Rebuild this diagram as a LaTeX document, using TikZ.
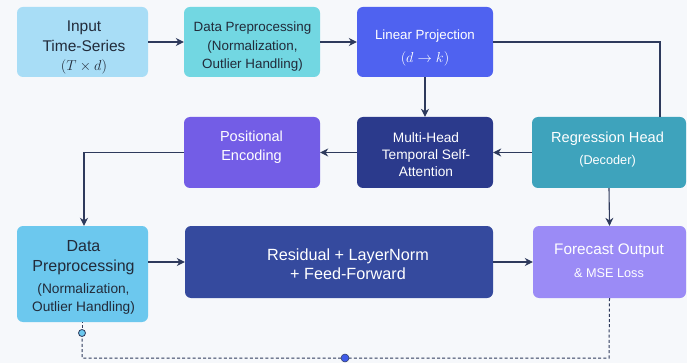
\documentclass[tikz,border=0pt]{standalone}
\usepackage{fontspec}
\setmainfont{Liberation Sans}
\usetikzlibrary{arrows.meta}
\definecolor{bgc}{HTML}{F6F8FB}
\definecolor{cin}{HTML}{A8DDF6}
\definecolor{cdpa}{HTML}{72D7E2}
\definecolor{clp}{HTML}{4F62F0}
\definecolor{cpe}{HTML}{735DE6}
\definecolor{cmh}{HTML}{2B3A8C}
\definecolor{crh}{HTML}{3EA3BC}
\definecolor{cdpb}{HTML}{6CC8EE}
\definecolor{cres}{HTML}{354A9E}
\definecolor{cfo}{HTML}{9B8BF6}
\definecolor{cline}{HTML}{2E3A5C}
\definecolor{dtext}{HTML}{222B3A}
\definecolor{cdot}{HTML}{3F5BE8}
\tikzset{
  blk/.style={rounded corners=6pt, inner sep=0pt},
  txt/.style={align=center, inner sep=0pt},
  darktxt/.style={text=dtext},
  lighttxt/.style={text=white},
  conn/.style={draw=cline, line width=1.1pt, -{Stealth[length=8pt,width=8pt]}},
  plain/.style={draw=cline, line width=1.1pt},
  dashline/.style={draw=cline, line width=1pt, dash pattern=on 3pt off 2.2pt}
}
\begin{document}
\begin{tikzpicture}[x=1pt,y=-1pt]
\fill[bgc] (0,0) rectangle (687,363);
\useasboundingbox (0,0) rectangle (687,363);

% boxes
\node[blk, fill=cin,  minimum width=131pt, minimum height=70pt] (in)  at (82.5,42) {};
\node[blk, fill=cdpa, minimum width=136pt, minimum height=70pt] (dpa) at (252,42) {};
\node[blk, fill=clp,  minimum width=136pt, minimum height=70pt] (lp)  at (425,42) {};
\node[blk, fill=cpe,  minimum width=136pt, minimum height=71pt] (pe)  at (252,152.5) {};
\node[blk, fill=cmh,  minimum width=136pt, minimum height=71pt] (mh)  at (425,152.5) {};
\node[blk, fill=crh,  minimum width=154pt, minimum height=71pt] (rh)  at (609,152.5) {};
\node[blk, fill=cdpb, minimum width=131pt, minimum height=96pt] (dpb) at (82.5,274) {};
\node[blk, fill=cres, minimum width=308pt, minimum height=72pt] (res) at (339,262) {};
\node[blk, fill=cfo,  minimum width=153pt, minimum height=72pt] (fo)  at (609.5,262) {};

% texts
\node[txt, darktxt, font=\fontsize{15.5}{19.5}\selectfont] (int) at (84,47.5)
  {Input\\Time-Series\\{\fontsize{14.5}{14.5}\selectfont$(T\times d)$}};
\node[txt, darktxt, font=\fontsize{13.4}{18.5}\selectfont] (dpat) at (252.5,47)
  {Data Preprocessing\\(Normalization,\\Outlier Handling)};
\node[txt, lighttxt, font=\fontsize{13.3}{23}\selectfont] (lpt) at (425,47.5)
  {Linear Projection\\{\fontsize{14}{14}\selectfont$(d\rightarrow k)$}};
\node[txt, lighttxt, font=\fontsize{14.5}{19}\selectfont] (pet) at (251.5,147.5)
  {Positional\\Encoding};
\node[txt, lighttxt, font=\fontsize{13.7}{17}\selectfont] (mht) at (426,154.5)
  {Multi-Head\\Temporal Self-\\Attention};
\node[txt, lighttxt, font=\fontsize{14.6}{22.5}\selectfont] (rht) at (607.5,149.5)
  {Regression Head\\{\fontsize{12.7}{14}\selectfont (Decoder)}};
\node[txt, darktxt, font=\fontsize{16}{20}\selectfont] (dpbt) at (83.5,277)
  {Data\\Preprocessing\\[2pt]{\fontsize{13.7}{18}\selectfont (Normalization,}\\[-2pt]{\fontsize{13.7}{18}\selectfont Outlier Handling)}};
\node[txt, lighttxt, font=\fontsize{16.2}{19.5}\selectfont] (rest) at (348,264)
  {Residual + LayerNorm\\+ Feed-Forward};
\node[txt, lighttxt, font=\fontsize{15.3}{22.5}\selectfont] (fot) at (609,260.5)
  {Forecast Output\\{\fontsize{12.7}{14}\selectfont \& MSE Loss}};

\coordinate (c1) at (660,42);
\coordinate (c2) at (84,152.5);
\coordinate (c3) at (609,358);
\coordinate (c4) at (82,358);
\coordinate (cb) at (82,333);

\draw[conn] (in) -- (dpa);
\draw[conn] (dpa) -- (lp);
\draw[plain] (lp.east) -- (c1) -- (c1 |- rh.north);
\draw[conn] (lp.south) -- (mh.north);
\draw[conn] (rh.west) -- (mh.east);
\draw[conn] (mh.west) -- (pe.east);
\draw[conn] (pe.west) -- (c2) -- (c2 |- dpb.north);
\draw[conn] (rh.south) -- (fo.north);
\draw[conn] (dpb.east |- res.west) -- (res.west);
\draw[conn] (res.east) -- (fo.west);
\draw[dashline] (fo.south) -- (c3) -- (c4) -- (cb);
\draw[dashline] (cb) -- (cb |- dpb.south);
\node[circle, draw=cline, fill=cdpb, line width=0.8pt, minimum size=7pt, inner sep=0pt] (ob) at (cb) {};
\node[circle, fill=cdot, draw=cline, line width=0.5pt, minimum size=8pt, inner sep=0pt] (bd) at (345,358) {};
\end{tikzpicture}
\end{document}
